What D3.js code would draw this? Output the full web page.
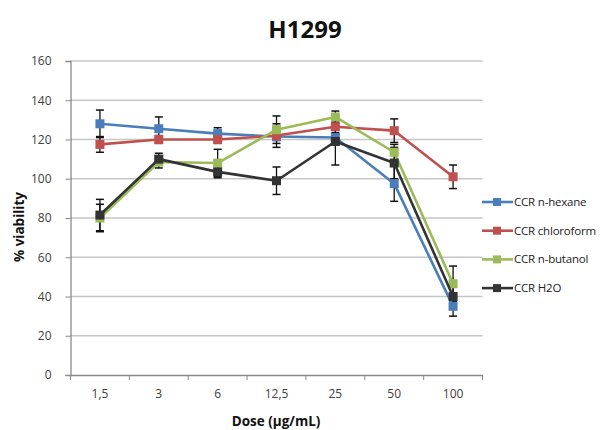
<!DOCTYPE html>
<html>
<head>
<meta charset="utf-8">
<script src="https://cdn.jsdelivr.net/npm/d3@7"></script>
<style>
  body { margin: 0; background: #fff; }
  text { font-family: "Open Sans", "Liberation Sans", sans-serif; }
</style>
</head>
<body>
<div id="chart"></div>
<script>
// categories on the x axis
const doses = ["1,5", "3", "6", "12,5", "25", "50", "100"];
const yTicks = [0, 20, 40, 60, 80, 100, 120, 140, 160];

// series values (% viability) and error bars
const seriesNames = ["CCR n-hexane", "CCR chloroform", "CCR n-butanol", "CCR H2O"];
const seriesColors = ["#4a7ebb", "#c0504d", "#9bbb59", "#333333"];
const hexane = [128, 125.5, 123, 121.5, 121, 97.5, 35];
const hexaneErr = [7, 6, 3, 2, 2, 9, 5];
const chloroform = [117.5, 120, 120, 122, 126.5, 124.5, 101];
const chloroformErr = [4, 2, 2, 6, 3, 6, 6];
const butanol = [80, 108.5, 108, 125, 131.5, 113.5, 46.5];
const butanolErr = [7, 3, 7, 7, 3, 4, 9];
const water = [81.5, 110, 103.5, 99, 119, 108, 40];
const waterErr = [8, 3, 3, 7, 12, 8, 5];

const values = [hexane, chloroform, butanol, water];
const errors = [hexaneErr, chloroformErr, butanolErr, waterErr];

const W = 601, H = 430;
const plotLeft = 70.5, plotRight = 482.5, plotTop = 61, plotBottom = 375;

const svg = d3.select("#chart").append("svg")
    .attr("width", W)
    .attr("height", H);

const x = d3.scaleBand().domain(doses).range([plotLeft, plotRight]);
const y = d3.scaleLinear().domain([0, 160]).range([plotBottom, plotTop]);

// gridlines
svg.append("g")
    .selectAll("line")
    .data(yTicks.filter(d => d > 0))
    .enter().append("line")
    .attr("x1", plotLeft).attr("x2", plotRight)
    .attr("y1", d => y(d)).attr("y2", d => y(d))
    .style("stroke", "#c6c6c6")
    .style("stroke-width", 1.3);

// y axis
const yAxis = svg.append("g")
    .attr("transform", `translate(${plotLeft},0)`)
    .call(d3.axisLeft(y).tickValues(yTicks).tickSize(5).tickPadding(14));
yAxis.select(".domain").style("stroke", "#8a8a8a").style("stroke-width", 1.3);
yAxis.selectAll(".tick line").style("stroke", "#8a8a8a");
yAxis.selectAll(".tick text")
    .style("font-size", "12px")
    .style("fill", "#404040")
    .style("font-family", "'Open Sans', sans-serif");

// x axis
const xAxis = svg.append("g")
    .attr("transform", `translate(0,${plotBottom})`)
    .call(d3.axisBottom(x).tickSize(0).tickPadding(14));
xAxis.select(".domain").style("stroke", "#8a8a8a").style("stroke-width", 1.3);
xAxis.selectAll(".tick text")
    .style("font-size", "12px")
    .style("fill", "#404040")
    .style("font-family", "'Open Sans', sans-serif");

// band boundary ticks
svg.append("g")
    .selectAll("line")
    .data(doses.concat(["end"]))
    .enter().append("line")
    .attr("x1", (d, i) => plotLeft + i * x.bandwidth())
    .attr("x2", (d, i) => plotLeft + i * x.bandwidth())
    .attr("y1", plotBottom).attr("y2", plotBottom + 5)
    .style("stroke", "#8a8a8a");

const cx = d => x(d) + x.bandwidth() / 2;

// error bars
values.forEach((vals, s) => {
    const g = svg.append("g");
    vals.forEach((v, i) => {
        const e = errors[s][i];
        const px = cx(doses[i]);
        g.append("line")
            .attr("x1", px).attr("x2", px)
            .attr("y1", y(v - e)).attr("y2", y(v + e))
            .style("stroke", "#111").style("stroke-width", 1.3);
        [v - e, v + e].forEach(t => {
            g.append("line")
                .attr("x1", px - 4).attr("x2", px + 4)
                .attr("y1", y(t)).attr("y2", y(t))
                .style("stroke", "#111").style("stroke-width", 1.5);
        });
    });
});

// lines and markers
const line = d3.line()
    .x((d, i) => cx(doses[i]))
    .y(d => y(d));

values.forEach((vals, s) => {
    svg.append("path")
        .datum(vals)
        .attr("d", line)
        .style("fill", "none")
        .style("stroke", seriesColors[s])
        .style("stroke-width", 2.6)
        .style("stroke-linejoin", "round");
    svg.append("g")
        .selectAll("rect")
        .data(vals)
        .enter().append("rect")
        .attr("x", (d, i) => cx(doses[i]) - 4.5)
        .attr("y", d => y(d) - 4.5)
        .attr("width", 9).attr("height", 9)
        .style("fill", seriesColors[s]);
});

// legend
const legend = svg.append("g");
seriesNames.forEach((name, s) => {
    const ly = 202 + s * 28.7;
    legend.append("line")
        .attr("x1", 482).attr("x2", 513)
        .attr("y1", ly).attr("y2", ly)
        .style("stroke", seriesColors[s])
        .style("stroke-width", 2.6);
    legend.append("rect")
        .attr("x", 493).attr("y", ly - 4)
        .attr("width", 8).attr("height", 8)
        .style("fill", seriesColors[s]);
    legend.append("text")
        .attr("x", 514).attr("y", ly + 4)
        .style("font-size", "11.5px")
        .style("fill", "#222")
        .style("letter-spacing", "-0.2px")
        .text(name);
});

// title and axis titles
svg.append("text")
    .attr("x", 305).attr("y", 38)
    .attr("text-anchor", "middle")
    .style("font-size", "24px")
    .style("font-weight", "bold")
    .style("fill", "#111")
    .text("H1299");

svg.append("text")
    .attr("x", 276).attr("y", 426)
    .attr("text-anchor", "middle")
    .style("font-size", "13.5px")
    .style("font-weight", "bold")
    .style("fill", "#111")
    .text("Dose (µg/mL)");

svg.append("text")
    .attr("transform", "translate(24,227) rotate(-90)")
    .attr("text-anchor", "middle")
    .style("font-size", "13.5px")
    .style("font-weight", "bold")
    .style("fill", "#111")
    .text("% viability");
</script>
</body>
</html>
